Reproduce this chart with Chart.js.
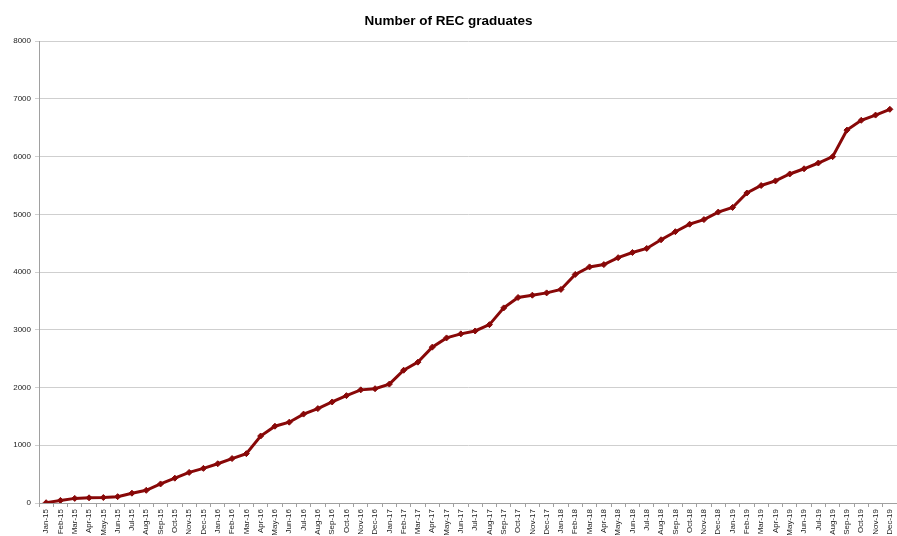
<!DOCTYPE html>
<html>
<head>
<meta charset="utf-8">
<script src="https://cdn.jsdelivr.net/npm/chart.js@4"></script>
<style>
    html, body { margin: 0; padding: 0; background: #fff; }
    #wrap { width: 897px; height: 536px; }
</style>
</head>
<body>
<div id="wrap"><canvas id="gradChart"></canvas></div>
<script>
const months = ['Jan', 'Feb', 'Mar', 'Apr', 'May', 'Jun', 'Jul', 'Aug', 'Sep', 'Oct', 'Nov', 'Dec'];
const years = ['15', '16', '17', '18', '19'];
const labels = years.flatMap(y => months.map(m => m + '-' + y));

const graduates = [
    5, 45, 80, 90, 95, 110, 170, 220, 330, 430, 530, 600,
    680, 770, 855, 1160, 1330, 1400, 1540, 1635, 1750, 1860, 1960, 1980,
    2060, 2300, 2440, 2700, 2860, 2930, 2980, 3090, 3380, 3560, 3600, 3640,
    3700, 3960, 4090, 4130, 4250, 4340, 4410, 4560, 4700, 4830, 4910, 5040,
    5120, 5370, 5500, 5580, 5700, 5790, 5890, 6000, 6460, 6630, 6720, 6820
];

const yTicks = [0, 1000, 2000, 3000, 4000, 5000, 6000, 7000, 8000];

const tickFont = { family: 'Liberation Sans, Arial, sans-serif', size: 8 };

new Chart(document.getElementById('gradChart').getContext('2d'), {
    type: 'line',
    data: {
        labels: labels,
        datasets: [{
            label: 'Graduates',
            data: graduates,
            borderColor: '#880808',
            backgroundColor: '#880808',
            borderWidth: 3,
            pointStyle: 'rectRot',
            pointRadius: 3,
            pointBorderWidth: 1,
            tension: 0
        }]
    },
    options: {
        responsive: true, maintainAspectRatio: false, animation: false,
        layout: { padding: 0, autoPadding: false },
        plugins: {
            legend: { display: false },
            tooltip: { enabled: false },
            title: {
                display: true,
                text: 'Number of REC graduates',
                color: '#000',
                font: { family: 'Liberation Sans, Arial, sans-serif', size: 13.5, weight: 'bold' },
                padding: { top: 13, bottom: 12 }
            }
        },
        scales: {
            x: {
                offset: true,
                grid: { offset: true, drawOnChartArea: false, tickLength: 4, color: '#a0a0a0' },
                border: { color: '#a0a0a0' },
                ticks: { autoSkip: false, minRotation: 90, maxRotation: 90, color: '#222', font: tickFont, padding: 2 },
                afterFit: s => { s.height = 33; s.paddingLeft = 0; s.paddingRight = 0; }
            },
            y: {
                min: 0, max: 8000,
                afterBuildTicks: s => { s.ticks = yTicks.map(v => ({ value: v })); },
                grid: { color: '#cfcfcf', tickLength: 4 },
                border: { color: '#a0a0a0' },
                ticks: { color: '#222', font: tickFont, padding: 4, callback: v => String(v) },
                afterFit: s => { s.width = 39; }
            }
        }
    }
});
</script>
</body>
</html>
